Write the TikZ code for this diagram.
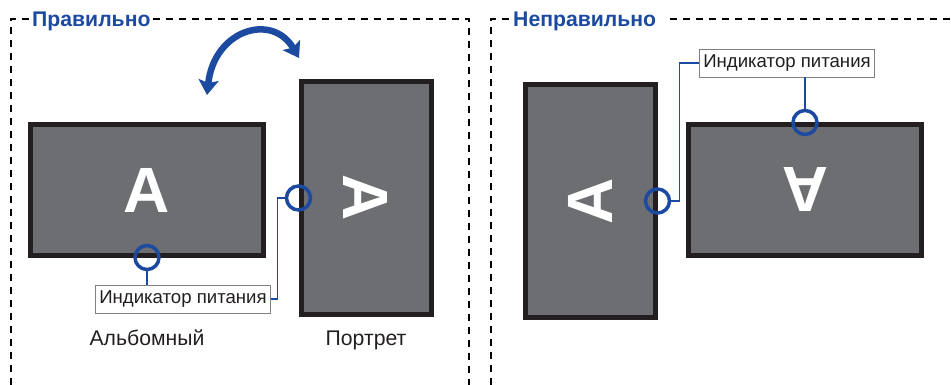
\documentclass[tikz,border=0pt]{standalone}
\usepackage{fontspec}
\setmainfont{Liberation Sans}
\usetikzlibrary{arrows.meta, positioning, calc}
\definecolor{ledblue}{RGB}{28,74,160}
\definecolor{bezel}{RGB}{35,31,32}
\definecolor{panel}{RGB}{109,110,113}
\definecolor{inktext}{RGB}{35,31,32}

\begin{document}
\begin{tikzpicture}[x=1pt, y=1pt,
  every node/.style={font=\fontsize{18.6}{21}\selectfont, text=inktext},
  monitor/.style={draw=bezel, fill=panel, line width=5pt, minimum width=233pt, minimum height=130pt, inner sep=0pt, text=white, font=\fontsize{64}{64}\selectfont\bfseries},
  led/.style={draw=ledblue, circle, line width=3.5pt, minimum size=24pt, inner sep=0pt},
  tag/.style={draw=gray, fill=white, line width=0.8pt, inner xsep=3.5pt, inner ysep=4pt, minimum height=28pt},
  lead/.style={draw=ledblue, line width=1.3pt},
  caption/.style={font=\fontsize{21.2}{24}\selectfont},
  heading/.style={font=\fontsize{21.2}{24}\selectfont\bfseries, text=ledblue, inner xsep=2pt, inner ysep=0pt},
  frame/.style={draw=black, line width=2.3pt, dash pattern=on 7pt off 6pt},
  turn/.style={draw=ledblue, line width=6.5pt, arrows={Stealth[length=15pt,width=20pt,inset=3pt]-Stealth[length=15pt,width=20pt,inset=3pt]}}
]
\useasboundingbox (0,0) rectangle (951,-385);
% Frames
\node[heading, anchor=base west] (Ltitle) at (30,-27) {Правильно};
\node[heading, anchor=base west] (Rtitle) at (511,-27) {Неправильно};
\draw[frame] (11,-385) -- (11,-19) -- (Ltitle.west |- 0,-19);
\draw[frame] (Ltitle.east |- 0,-19) -- (469,-19) -- (469,-385);
\draw[frame] (491,-385) -- (491,-19) -- (Rtitle.west |- 0,-19);
\draw[frame] ($(Rtitle.east |- 0,-19)+(12,0)$) -- (951,-19);
% Monitors
\node[monitor] (L) at (147,-190) {A};
\node[monitor, rotate=-90] (P) at (366,-198) {A};
\node[monitor, rotate=90] (WP) at (590,-201) {A};
\node[monitor, rotate=180] (WL) at (805,-190) {A};
% Power indicators
\node[led] (Lled) at (L.south) {};
\node[led] (Pled) at (P.south) {};
\node[led] (WPled) at (WP.south) {};
\node[led] (WLled) at (WL.south) {};
% Labels
\node[tag] (Llabel) at (183,-299) {Индикатор питания};
\node[tag] (Wlabel) at (787,-63) {Индикатор питания};
\draw[lead] (Lled) -- (Lled |- Llabel.north);
\draw[lead] (Pled.west) -- ++(-7,0) |- (Llabel.east);
\draw[lead] (WPled.east) -- ++(8,0) |- (Wlabel.west);
\draw[lead] (WLled) -- (WLled |- Wlabel.south);
% Captions
\node[caption, anchor=base] (Lcap) at (147,-345) {Альбомный};
\node[caption, anchor=base] (Pcap) at (P |- Lcap.base) {Портрет};
% Rotation arrow
\draw[turn] (207,-95) .. controls (214,-30) and (272,-12) .. (299,-58);
\end{tikzpicture}
\end{document}
